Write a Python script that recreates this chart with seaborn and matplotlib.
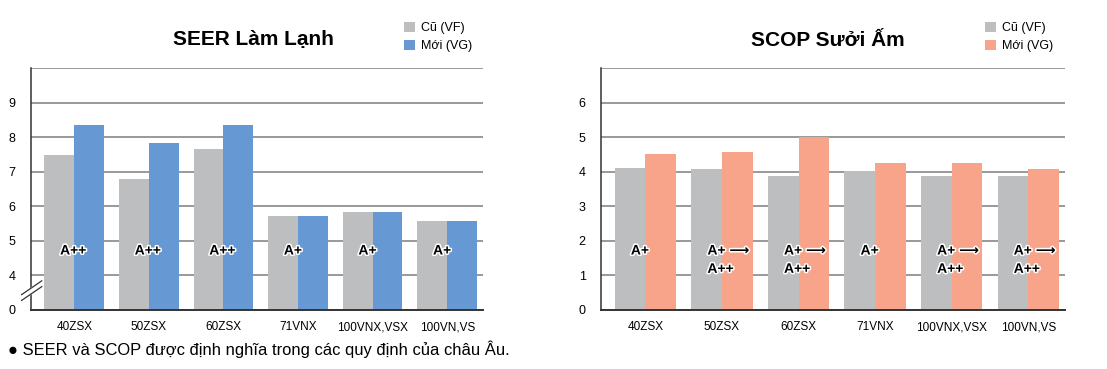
import matplotlib
matplotlib.use("Agg")
import matplotlib.pyplot as plt
import matplotlib.patheffects as pe
import numpy as np
import pandas as pd
import seaborn as sns

MODELS = ["40ZSX", "50ZSX", "60ZSX", "71VNX", "100VNX,VSX", "100VN,VS"]
SERIES = ["Cũ (VF)", "Mới (VG)"]

SEER_OLD = [7.49, 6.80, 7.67, 5.72, 5.84, 5.58]
SEER_NEW = [8.36, 7.84, 8.36, 5.72, 5.84, 5.58]
SEER_CLASS = ["A++", "A++", "A++", "A+", "A+", "A+"]

SCOP_OLD = [4.12, 4.09, 3.88, 4.03, 3.88, 3.88]
SCOP_NEW = [4.52, 4.58, 5.00, 4.26, 4.26, 4.09]
SCOP_CLASS = ["A+", "A+ ⟶\nA++", "A+ ⟶\nA++", "A+", "A+ ⟶\nA++", "A+ ⟶\nA++"]

SEER_TICKS = [0, 4, 5, 6, 7, 8, 9, 10]
SCOP_TICKS = [0, 1, 2, 3, 4, 5, 6, 7]

GRAY = "#BDBEC0"
BLUE = "#6699D3"
SALMON = "#F7A48B"
FONT = ["Liberation Sans", "DejaVu Sans"]


def long_df(old, new):
    return pd.DataFrame({
        "model": MODELS * 2,
        "series": [SERIES[0]] * len(MODELS) + [SERIES[1]] * len(MODELS),
        "value": list(old) + list(new),
    })


# broken axis: 0..4 squeezed into one unit, then linear
def fwd(v):
    v = np.asarray(v, dtype=float)
    return np.where(v >= 4, v - 3, v / 4)


def inv(p):
    p = np.asarray(p, dtype=float)
    return np.where(p >= 1, p + 3, p * 4)


def draw_panel(fig, rect, old, new, color, ticks, title, title_x, leg_x, classes, broken):
    ax = fig.add_axes(rect)
    df = long_df(old, new)
    sns.barplot(data=df, x="model", y="value", hue="series", ax=ax,
                palette=[GRAY, color], width=0.8, saturation=1, linewidth=0)
    if broken:
        ax.set_yscale("function", functions=(fwd, inv))
    ax.set_ylim(ticks[0], ticks[-1])
    ax.set_xlim(-0.58, 5.48)
    ax.set_yticks(ticks)
    ax.set_yticklabels([str(t) for t in ticks[:-1]] + [""])
    ax.yaxis.grid(True, color="#999999", linewidth=1.4)
    ax.xaxis.grid(False)
    ax.set_axisbelow(True)
    for s in ["top", "right"]:
        ax.spines[s].set_visible(False)
    ax.spines["left"].set_color("#333333")
    ax.spines["bottom"].set_color("#333333")
    ax.spines["left"].set_linewidth(1.1)
    ax.spines["bottom"].set_linewidth(1.4)
    ax.tick_params(axis="y", length=5, color="#999999", width=1.2, pad=6,
                   labelsize=9, labelcolor="black")
    ax.tick_params(axis="x", length=0, pad=8, labelsize=8.5, labelcolor="black")
    ax.set_xlabel("")
    ax.set_ylabel("")

    handles, labels = ax.get_legend_handles_labels()
    ax.legend(handles, labels, loc="upper left", bbox_to_anchor=(leg_x, 1 - 22 / 369),
              bbox_transform=fig.transFigure, frameon=False, fontsize=9,
              handlelength=0.9, handleheight=0.9, handletextpad=0.45,
              labelspacing=0.4, borderpad=0, borderaxespad=0)

    fig.text(title_x, 1 - 40 / 369, title, ha="center", va="center",
             fontsize=15, fontweight="bold", family=FONT, color="black")

    stroke = [pe.withStroke(linewidth=2.2, foreground="white")]
    first_y = 4.72 if broken else 1.72
    for i, lab in enumerate(classes):
        lines = lab.split("\n")
        for j, line in enumerate(lines):
            y = first_y - 0.53 * j
            ax.text(i - 0.19, y, line, ha="left", va="center", fontsize=10,
                    fontweight="bold", family=FONT, path_effects=stroke,
                    color="black", zorder=5)
    return ax


sns.set_theme(style="white")
plt.rcParams["font.family"] = FONT
plt.rcParams["text.color"] = "black"

fig = plt.figure(figsize=(11.07, 3.69), dpi=100)

ax1 = draw_panel(fig, [31 / 1107, 1 - 310 / 369, 452 / 1107, 242 / 369],
                 SEER_OLD, SEER_NEW, BLUE, SEER_TICKS, "SEER Làm Lạnh",
                 253 / 1107, 404 / 1107, SEER_CLASS, True)
ax2 = draw_panel(fig, [601 / 1107, 1 - 310 / 369, 464 / 1107, 242 / 369],
                 SCOP_OLD, SCOP_NEW, SALMON, SCOP_TICKS, "SCOP Sưởi Ấm",
                 828 / 1107, 985 / 1107, SCOP_CLASS, False)

# break marks on the left axis
for dy, col, lw in [(0.0, "white", 4.5), (-0.012, "#333333", 0.9), (0.012, "#333333", 0.9)]:
    ax1.plot([-0.022, 0.025], [0.05 + dy, 0.11 + dy], transform=ax1.transAxes,
             color=col, linewidth=lw, clip_on=False, zorder=6,
             solid_capstyle="butt")

fig.text(8 / 1107, 1 - 349 / 369, "● SEER và SCOP được định nghĩa trong các quy định của châu Âu.",
         ha="left", va="center", fontsize=11.9, family=FONT, color="black")

fig.savefig("out.png", dpi=100)
